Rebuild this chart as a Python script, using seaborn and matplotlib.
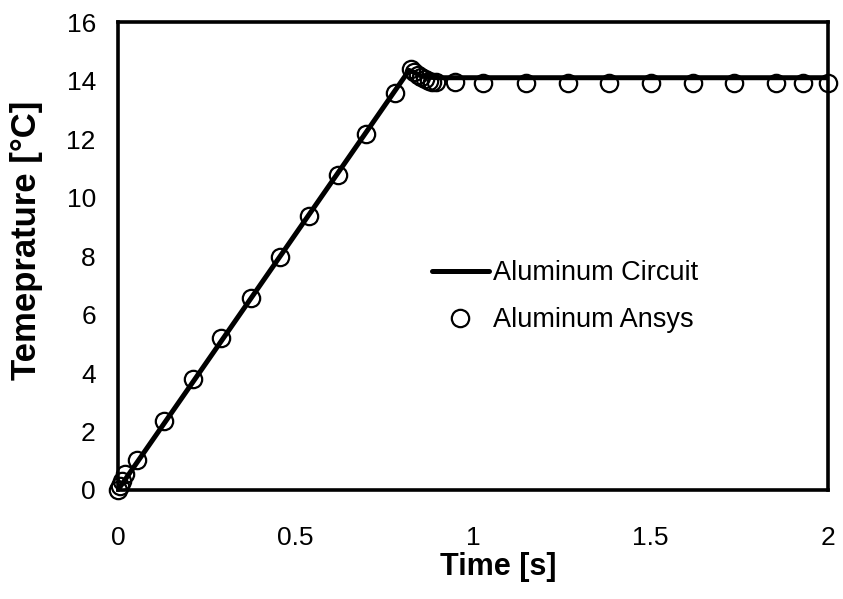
import matplotlib
matplotlib.use("Agg")
import matplotlib.pyplot as plt
import seaborn as sns
import pandas as pd

# Circuit model (solid line)
circuit_time = [0.0, 0.01, 0.05, 0.2, 0.4, 0.6, 0.8, 0.82, 0.835, 0.85, 0.87, 0.9, 1.0, 1.5, 2.0]
circuit_temp = [0.0, 0.18, 0.88, 3.5, 7.0, 10.5, 14.0, 14.35, 14.28, 14.18, 14.12, 14.1, 14.1, 14.1, 14.1]

# Ansys results (open circles)
ansys_time = [0.0, 0.005, 0.01, 0.02, 0.054, 0.13, 0.21, 0.29, 0.375, 0.456, 0.538, 0.62, 0.70,
              0.78, 0.825, 0.835, 0.845, 0.855, 0.865, 0.875, 0.885, 0.895, 0.949, 1.028,
              1.149, 1.268, 1.383, 1.501, 1.620, 1.735, 1.854, 1.930, 2.0]
ansys_temp = [0.0, 0.15, 0.3, 0.55, 1.03, 2.36, 3.78, 5.2, 6.58, 7.98, 9.38, 10.78, 12.18,
              13.58, 14.4, 14.3, 14.2, 14.12, 14.05, 14.0, 13.97, 13.95, 13.94, 13.93,
              13.93, 13.93, 13.93, 13.93, 13.93, 13.93, 13.93, 13.93, 13.93]

xticks = [0, 0.5, 1, 1.5, 2]
xticklabels = ["0", "0.5", "1", "1.5", "2"]
yticks = [0, 2, 4, 6, 8, 10, 12, 14, 16]

sns.set_style("white")
plt.rcParams["font.family"] = ["Liberation Sans", "DejaVu Sans"]
plt.rcParams["text.color"] = "black"
plt.rcParams["axes.labelcolor"] = "black"

df_c = pd.DataFrame({"t": circuit_time, "T": circuit_temp})
df_a = pd.DataFrame({"t": ansys_time, "T": ansys_temp})

fig = plt.figure(figsize=(8.43, 5.99), dpi=100)
ax = fig.add_axes([0.14, 0.182, 0.842, 0.781])

sns.lineplot(data=df_c, x="t", y="T", ax=ax, color="black", linewidth=3.6,
             label="Aluminum Circuit", sort=False, estimator=None)
sns.lineplot(data=df_a, x="t", y="T", ax=ax, color="black", linestyle="none",
             marker="o", markersize=12.5, markerfacecolor="none",
             markeredgecolor="black", markeredgewidth=1.6,
             label="Aluminum Ansys", sort=False, estimator=None, clip_on=False)

ax.set_xlim(0, 2)
ax.set_ylim(0, 16)
ax.set_xticks(xticks)
ax.set_xticklabels(xticklabels)
ax.set_yticks(yticks)
ax.tick_params(axis="both", direction="in", length=7, width=2.2, labelsize=19,
               colors="black")
ax.tick_params(axis="x", pad=26)
ax.tick_params(axis="y", pad=16)
for s in ax.spines.values():
    s.set_linewidth(2.6)
    s.set_color("black")

ax.set_xlabel("Time [s]", fontsize=22, fontweight="bold", color="black")
ax.xaxis.set_label_coords(0.535, -0.1325)
ax.set_ylabel("Temeprature [°C]", fontsize=25, fontweight="bold", color="black")
ax.yaxis.set_label_coords(-0.105, 0.534)

leg = ax.legend(loc="center left", bbox_to_anchor=(0.442, 0.413), frameon=False,
                fontsize=19.5, handlelength=2.1, handletextpad=0.15, labelspacing=0.76,
                borderpad=0, borderaxespad=0)
for t in leg.get_texts():
    t.set_color("black")

fig.savefig("out.png", dpi=100)
